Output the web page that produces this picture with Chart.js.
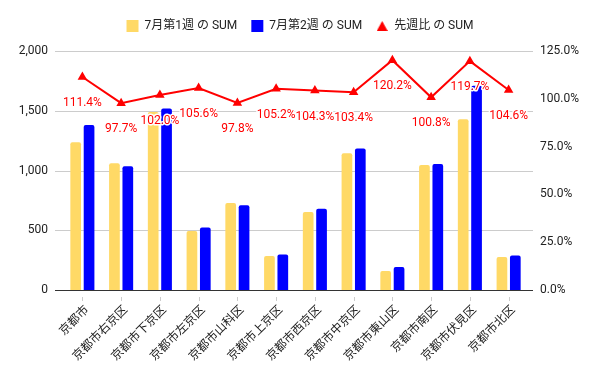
<!DOCTYPE html>
<html>
<head>
<meta charset="utf-8">
<script src="https://cdn.jsdelivr.net/npm/chart.js@4"></script>
<style>
  body { margin: 0; background: #fff; }
</style>
</head>
<body>
<canvas id="chart" width="600" height="371"></canvas>
<script>
const categories = ["京都市", "京都市右京区", "京都市下京区", "京都市左京区", "京都市山科区", "京都市上京区",
  "京都市西京区", "京都市中京区", "京都市東山区", "京都市南区", "京都市伏見区", "京都市北区"];
const week1 = [1237, 1061, 1490, 493, 727, 284, 652, 1145, 160, 1047, 1428, 276];
const week2 = [1380, 1036, 1518, 522, 710, 298, 680, 1185, 192, 1055, 1709, 289];
const ratio = [1.114, 0.977, 1.020, 1.056, 0.978, 1.052, 1.043, 1.034, 1.202, 1.008, 1.197, 1.046];
const leftTicks = [0, 500, 1000, 1500, 2000];
const rightTicks = [0, 0.25, 0.5, 0.75, 1.0, 1.25];

Chart.defaults.font.family = "Roboto, 'Noto Sans CJK JP', sans-serif";
Chart.defaults.font.size = 12;
Chart.defaults.color = "#333";

// small triangle for the legend
const tri = document.createElement("canvas");
tri.width = 11;
tri.height = 10;
const tctx = tri.getContext("2d");
tctx.fillStyle = "#ff0000";
tctx.beginPath();
tctx.moveTo(5.5, 0);
tctx.lineTo(11, 10);
tctx.lineTo(0, 10);
tctx.closePath();
tctx.fill();

// fixed legend height so the plot starts where the reference does
const legendHeight = {
  id: "legendHeight",
  beforeInit(chart) {
    const fit = chart.legend.fit;
    chart.legend.fit = function () {
      fit.bind(chart.legend)();
      this.height = 45;
    };
  }
};

// gridlines wider than the plot, small ticks under the axis
const grid = {
  id: "grid",
  beforeDatasetsDraw(chart) {
    const ctx = chart.ctx;
    const y = chart.scales.y;
    const x = chart.scales.x;
    ctx.save();
    leftTicks.forEach((v) => {
      const py = Math.round(y.getPixelForValue(v)) + 0.5;
      ctx.strokeStyle = v === 0 ? "#333" : "#ccc";
      ctx.lineWidth = 1;
      ctx.beginPath();
      ctx.moveTo(55, py);
      ctx.lineTo(533, py);
      ctx.stroke();
    });
    ctx.strokeStyle = "#ccc";
    categories.forEach((c, i) => {
      const px = Math.round(x.getPixelForValue(i)) + 0.5;
      ctx.beginPath();
      ctx.moveTo(px, 297);
      ctx.lineTo(px, 301);
      ctx.stroke();
    });
    ctx.restore();
  }
};

// percent labels under the line points
const pctLabels = {
  id: "pctLabels",
  afterDatasetsDraw(chart) {
    const ctx = chart.ctx;
    const meta = chart.getDatasetMeta(2);
    ctx.save();
    ctx.font = "12px Roboto, sans-serif";
    ctx.textAlign = "center";
    ctx.textBaseline = "middle";
    ctx.lineJoin = "round";
    meta.data.forEach((p, i) => {
      const text = (ratio[i] * 100).toFixed(1) + "%";
      ctx.strokeStyle = "#fff";
      ctx.lineWidth = 3;
      ctx.strokeText(text, p.x, p.y + 26);
      ctx.fillStyle = "#ff0000";
      ctx.fillText(text, p.x, p.y + 26);
    });
    ctx.restore();
  }
};

new Chart(document.getElementById("chart"), {
  data: {
    labels: categories,
    datasets: [
      {
        type: "bar",
        label: "7月第1週 の SUM",
        data: week1,
        backgroundColor: "#ffd966",
        pointStyle: "rect",
        borderRadius: { topLeft: 2, topRight: 2 },
        borderSkipped: "bottom",
        categoryPercentage: 0.69,
        barPercentage: 0.8,
        yAxisID: "y",
        order: 1
      },
      {
        type: "bar",
        label: "7月第2週 の SUM",
        data: week2,
        backgroundColor: "#0000ff",
        pointStyle: "rect",
        borderRadius: { topLeft: 2, topRight: 2 },
        borderSkipped: "bottom",
        categoryPercentage: 0.69,
        barPercentage: 0.8,
        yAxisID: "y",
        order: 1
      },
      {
        type: "line",
        label: "先週比 の SUM",
        data: ratio,
        borderColor: "#ff0000",
        backgroundColor: "#ff0000",
        borderWidth: 2,
        pointStyle: "triangle",
        pointRadius: 3.5,
        pointBackgroundColor: "#ff0000",
        pointBorderColor: "#ff0000",
        tension: 0,
        yAxisID: "y1",
        order: 0
      }
    ]
  },
  options: {
    responsive: false,
    animation: false,
    layout: { padding: { top: 6, left: 0, right: 0, bottom: 0 } },
    plugins: {
      legend: {
        position: "top",
        labels: {
          usePointStyle: true,
          boxHeight: 12,
          padding: 14,
          color: "#222",
          sort: (a, b) => a.datasetIndex - b.datasetIndex,
          generateLabels: (chart) => {
            const items = Chart.defaults.plugins.legend.labels.generateLabels(chart);
            items.forEach((it) => {
              if (it.datasetIndex === 2) it.pointStyle = tri;
            });
            return items;
          }
        }
      },
      tooltip: { enabled: false }
    },
    scales: {
      x: {
        grid: { display: false, drawTicks: false },
        border: { display: false },
        ticks: { minRotation: 45, maxRotation: 45, padding: 13, labelOffset: 5, color: "#222", autoSkip: false },
        afterFit: (s) => { s.height = 81; }
      },
      y: {
        position: "left",
        min: 0,
        max: 2000,
        afterBuildTicks: (s) => { s.ticks = leftTicks.map((v) => ({ value: v })); },
        grid: { display: false, drawTicks: false },
        border: { display: false },
        ticks: { padding: 15, color: "#222" },
        afterFit: (s) => { s.width = 63; }
      },
      y1: {
        position: "right",
        min: 0,
        max: 1.25,
        afterBuildTicks: (s) => { s.ticks = rightTicks.map((v) => ({ value: v })); },
        grid: { display: false, drawTicks: false },
        border: { display: false },
        ticks: { padding: 12, color: "#222", callback: (v) => (v * 100).toFixed(1) + "%" },
        afterFit: (s) => { s.width = 72; }
      }
    }
  },
  plugins: [legendHeight, grid, pctLabels]
});
</script>
</body>
</html>
